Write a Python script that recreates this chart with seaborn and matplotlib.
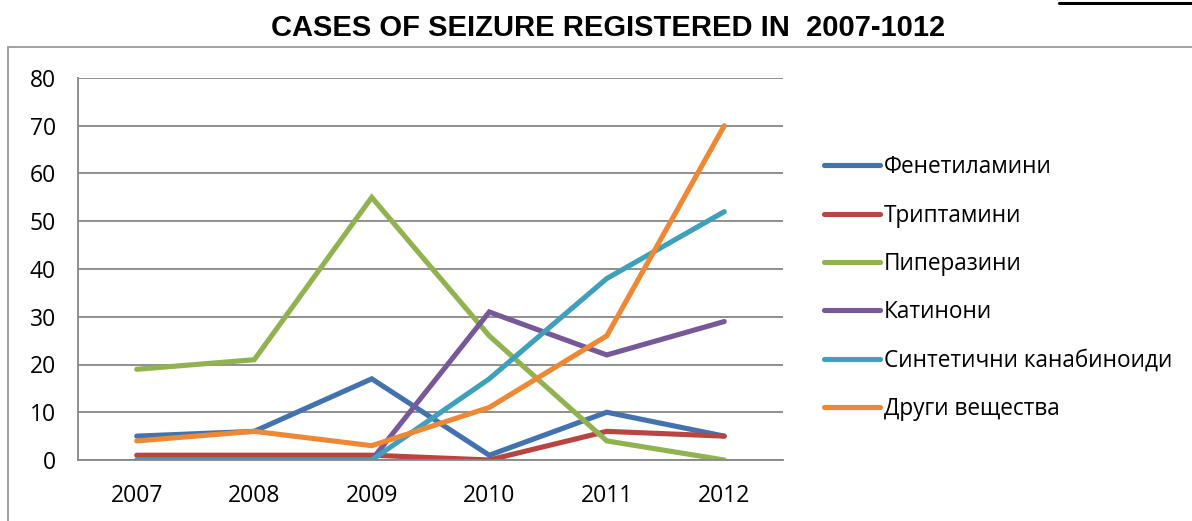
import pandas as pd
import matplotlib.pyplot as plt
import matplotlib.ticker as mticker
from matplotlib.patches import Rectangle
from matplotlib.lines import Line2D
import seaborn as sns

# данни, прочетени от графиката
godini = ['2007', '2008', '2009', '2010', '2011', '2012']
fenetilamini = [5, 6, 17, 1, 10, 5]
triptamini = [1, 1, 1, 0, 6, 5]
piperazini = [19, 21, 55, 26, 4, 0]
katinoni = [0, 0, 0, 31, 22, 29]
kanabinoidi = [0, 0, 0, 17, 38, 52]
drugi = [4, 6, 3, 11, 26, 70]

serii = {
    'Фенетиламини': fenetilamini,
    'Триптамини': triptamini,
    'Пиперазини': piperazini,
    'Катинони': katinoni,
    'Синтетични канабиноиди': kanabinoidi,
    'Други вещества': drugi,
}
cvetove = ['#4472AE', '#B94542', '#90B350', '#775898', '#3FA0BB', '#EE8835']

redove = []
for ime, stoinosti in serii.items():
    for i, v in enumerate(stoinosti):
        redove.append({'Година': i, 'Серия': ime, 'Брой': v})
df = pd.DataFrame(redove)

sns.set_style('white')
plt.rcParams['font.family'] = ['Open Sans', 'DejaVu Sans']
plt.rcParams['text.color'] = 'black'
plt.rcParams['xtick.labelcolor'] = 'black'
plt.rcParams['ytick.labelcolor'] = 'black'

fig = plt.figure(figsize=(11.92, 5.21), dpi=100)
ax = fig.add_axes([78 / 1192, 1 - 460 / 521, (783 - 78) / 1192, (460 - 78) / 521])

lw = 3.7
sns.lineplot(data=df, x='Година', y='Брой', hue='Серия', palette=cvetove,
             linewidth=lw, sort=False, ax=ax, legend=False)
for ln in ax.lines:
    ln.set_solid_capstyle('round')
    ln.set_solid_joinstyle('miter')

ax.set_xlim(-0.5, 5.5)
ax.set_ylim(0, 80)
ax.set_yticks(range(0, 81, 10))
ax.set_xticks(range(6))
ax.set_xticklabels(godini)
ax.xaxis.set_minor_locator(mticker.FixedLocator([x - 0.5 for x in range(7)]))
ax.tick_params(axis='x', which='major', length=0, pad=17, labelsize=16.5, labelcolor='black')
ax.tick_params(axis='x', which='minor', length=7, width=1.3, color='#878787', direction='out')
ax.tick_params(axis='y', length=7, width=1.3, color='#878787', direction='out', pad=9,
               labelsize=16.5, labelcolor='black')
ax.grid(True, axis='y', color='#878787', linewidth=1.3)
ax.set_axisbelow(True)
for s in ['top', 'right']:
    ax.spines[s].set_visible(False)
for s in ['left', 'bottom']:
    ax.spines[s].set_color('#878787')
    ax.spines[s].set_linewidth(1.3)
ax.set_xlabel('')
ax.set_ylabel('')

# легенда
handles = [Line2D([], [], color=c, linewidth=lw, solid_capstyle='round') for c in cvetove]
fig.legend(handles, list(serii.keys()), loc='upper left',
           bbox_to_anchor=(815 / 1192, 1 - 146 / 521), frameon=False,
           fontsize=16.3, handlelength=2.45, handletextpad=0.18, labelspacing=1.08,
           borderaxespad=0, labelcolor='black')

fig.text(608 / 1192, 1 - 28 / 521, 'CASES OF SEIZURE REGISTERED IN  2007-1012',
         ha='center', va='center', fontsize=21, fontweight='bold', color='black',
         family=['Liberation Sans', 'DejaVu Sans'])

# рамка на диаграмата
fig.patches.append(Rectangle((8 / 1192, -0.1), 1.2, 1 - 47 / 521 + 0.1,
                             transform=fig.transFigure, fill=False,
                             edgecolor='#9A9A9A', linewidth=1.3))
fig.lines.append(Line2D([1059 / 1192, 1], [1 - 2.5 / 521] * 2, transform=fig.transFigure,
                        color='black', linewidth=2.2))

fig.savefig('out.png', dpi=100)
